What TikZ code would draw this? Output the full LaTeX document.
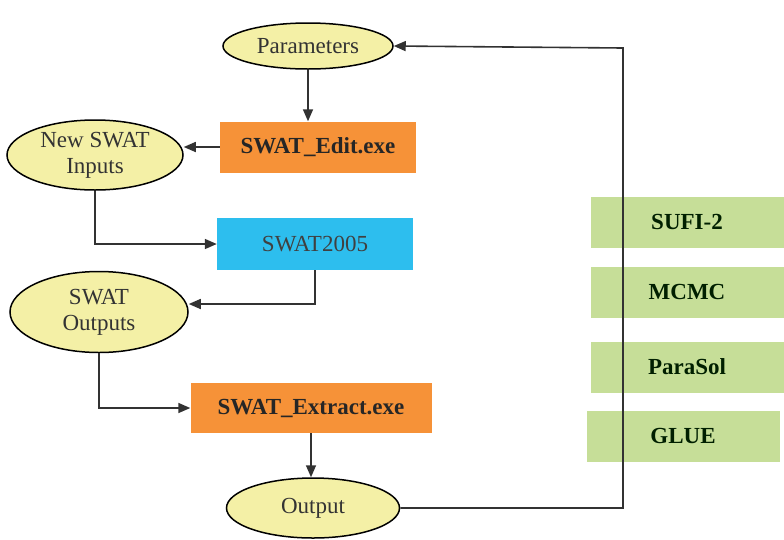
\documentclass[tikz,border=0pt]{standalone}
\usepackage{fontspec}
\setmainfont{Liberation Serif}
\usetikzlibrary{shapes.geometric, arrows.meta}

\definecolor{ellfill}{RGB}{244,240,166}
\definecolor{exeorange}{RGB}{246,146,56}
\definecolor{swatblue}{RGB}{45,190,238}
\definecolor{algogreen}{RGB}{198,222,152}
\definecolor{linegray}{RGB}{50,50,50}

\tikzset{
    file/.style={ellipse, draw=black, line width=1.5pt, fill=ellfill, text=black!80,
        align=center, inner sep=0pt, font=\fontsize{23}{26}\selectfont},
    exe/.style={rectangle, fill=exeorange, text=black!85, inner sep=0pt,
        font=\fontsize{23}{25}\selectfont\bfseries},
    algo/.style={rectangle, fill=algogreen, text=black!80!green!60!black, inner sep=0pt,
        minimum width=193pt, minimum height=51pt, font=\fontsize{23}{25}\selectfont\bfseries},
    flow/.style={draw=linegray, line width=1.6pt, -{Triangle[length=12pt,width=10pt]}}
}

\begin{document}
\begin{tikzpicture}[x=1pt, y=-1pt]
    \useasboundingbox (0,0) rectangle (784,539);
    % Files
    \node[file, minimum width=170pt, minimum height=46pt] (params) at (308,46) {Parameters};
    \node[file, minimum width=176pt, minimum height=70pt] (newin) at (95,155) {New SWAT\\Inputs};
    \node[file, minimum width=178pt, minimum height=81pt] (swout) at (99,312) {SWAT\\Outputs};
    \node[file, minimum width=173pt, minimum height=60pt] (output) at (313,508) {Output};
    % Programs
    \node[exe, minimum width=196pt, minimum height=51pt] (edit) at (318,147) {SWAT\_Edit.exe};
    \node[rectangle, fill=swatblue, text=black!75, inner sep=0pt, minimum width=196pt,
        minimum height=52pt, font=\fontsize{23}{25}\selectfont] (swat) at (315,244) {SWAT2005};
    \node[exe, minimum width=241pt, minimum height=50pt] (extract) at (311,408) {SWAT\_Extract.exe};
    % Algorithms
    \foreach \name/\i/\x/\y in {SUFI-2/1/687/222, MCMC/2/687/292, ParaSol/3/687/367, GLUE/4/683/436} {
        \node[algo] (Algo-\i) at (\x,\y) {\name};
    }
    % Arrows
    \coordinate (turn) at (623,48);
    \draw[flow] (params.south) -- (params.south |- edit.north);
    \draw[flow] (edit.west) -- (edit.west -| newin.east);
    \draw[flow] (newin.south) |- (swat.west);
    \draw[flow] (swat.south) |- ([yshift=8pt]swout.east);
    \draw[flow] (swout.south) |- (extract.west);
    \draw[flow] (extract.south) -- (extract.south |- output.north);
    \draw[flow] (output.east) -| (turn) -- (params.east);
\end{tikzpicture}
\end{document}
